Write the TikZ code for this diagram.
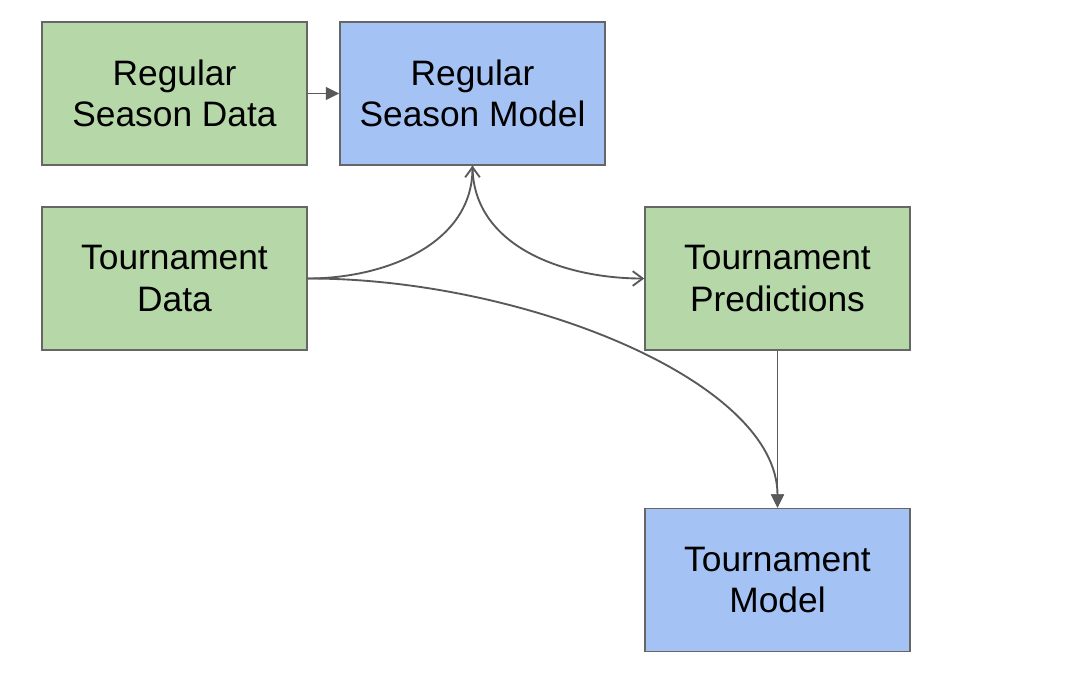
\documentclass[tikz,border=0pt]{standalone}
\usepackage{fontspec}
\setmainfont{Liberation Sans}
\usetikzlibrary{arrows.meta}
\definecolor{verde}{HTML}{B6D7A8}
\definecolor{azul}{HTML}{A4C2F4}
\definecolor{borda}{HTML}{666666}
\definecolor{seta}{HTML}{595959}
\begin{document}
\begin{tikzpicture}[x=0.75pt,y=-0.75pt,
   caixa/.style = {draw=borda, line width=1.1pt, minimum width=198.75pt, minimum height=107.25pt,
                   align=center, font=\fontsize{26.5}{31}\selectfont, inner sep=0pt},
   dados/.style = {caixa, fill=verde},
   modelo/.style = {caixa, fill=azul},
   liga/.style = {draw=seta, line width=1.4pt},
   cheia/.style = {liga, -{Triangle[length=10pt,width=9.5pt]}},
   aberta/.style = {liga, -{Straight Barb[length=7.5pt,width=11pt]}}]
         \useasboundingbox (0,0) rectangle (1068,676);
          \node (rsd) [dados]  at (174.5,93.5) {Regular\\Season Data};
          \node (rsm) [modelo] at (472.5,93.5) {Regular\\Season Model};
          \node (td)  [dados]  at (174.5,278.5) {Tournament\\Data};
          \node (tp)  [dados]  at (777.5,278.5) {Tournament\\Predictions};
          \node (tm)  [modelo] at (777.5,580) {Tournament\\Model};
          % setas
          \draw [cheia] (rsd) -- (rsm);
          \draw [aberta] (td.east) to [out=0, in=-90] (rsm.south);
          \draw [aberta] (rsm.south) to [out=-90, in=180] (tp.west);
          \draw [cheia] (td.east) .. controls (520,278) and (tm.north |- 0,380) .. (tm.north);
          \draw [cheia] (tp) -- (tm);
\end{tikzpicture}
\end{document}
